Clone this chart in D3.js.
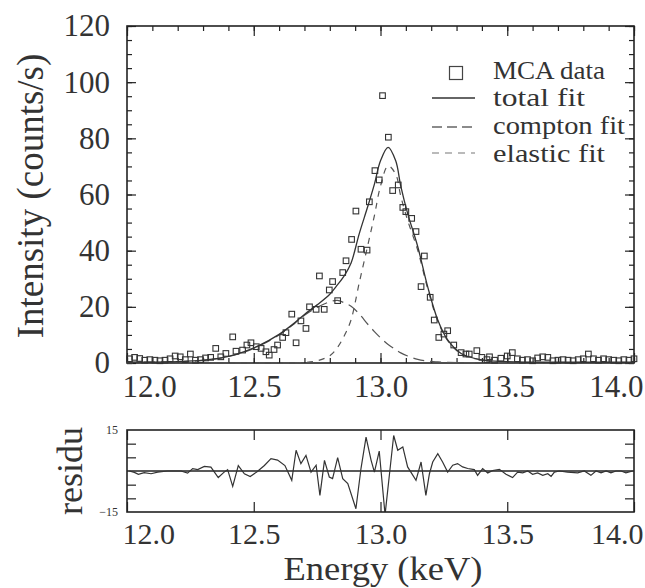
<!DOCTYPE html>
<html>
<head>
<meta charset="utf-8">
<script src="https://cdn.jsdelivr.net/npm/d3@7"></script>
<style>
  body { margin: 0; background: #fff; }
  svg { display: block; font-family: "Liberation Serif", "DejaVu Serif", serif; }
</style>
</head>
<body>
<svg id="chart" width="645" height="588"></svg>
<script>
// MCA spectrum
const energy = [12.01, 12.03, 12.05, 12.07, 12.09, 12.11, 12.13, 12.15, 12.17, 12.19,
  12.21, 12.23, 12.25, 12.27, 12.29, 12.31, 12.33, 12.35, 12.37, 12.39,
  12.417, 12.43, 12.456, 12.473, 12.489, 12.51, 12.529, 12.548, 12.561, 12.58,
  12.594, 12.614, 12.627, 12.65, 12.667, 12.686, 12.706, 12.72, 12.746, 12.759,
  12.778, 12.798, 12.811, 12.831, 12.851, 12.864, 12.886, 12.903, 12.923, 12.947,
  12.956, 12.978, 12.995, 13.008, 13.031, 13.048, 13.07, 13.088, 13.10, 13.123,
  13.14, 13.16, 13.173, 13.196, 13.212, 13.23, 13.25, 13.265, 13.289, 13.318,
  13.337, 13.35, 13.38, 13.40, 13.42, 13.43, 13.45, 13.475, 13.50, 13.52,
  13.54, 13.56, 13.58, 13.60, 13.62, 13.64, 13.66, 13.68, 13.70, 13.72,
  13.74, 13.76, 13.78, 13.80, 13.82, 13.84, 13.86, 13.88, 13.90, 13.92,
  13.94, 13.96, 13.98, 14.00];
const counts = [1.5, 2.0, 1.6, 1.0, 1.2, 1.0, 0.8, 1.0, 1.5, 2.5,
  2.2, 1.2, 3.2, 1.0, 1.2, 1.8, 2.0, 5.2, 2.2, 3.4,
  9.3, 4.2, 4.6, 6.4, 7.2, 5.8, 5.2, 4.0, 2.8, 4.8,
  6.4, 9.1, 10.8, 17.4, 7.2, 15.0, 12.3, 20.0, 19.1, 31.0,
  19.1, 26.0, 29.0, 22.2, 32.2, 36.4, 44.0, 54.1, 40.5, 40.2,
  57.4, 68.5, 65.2, 95.2, 80.4, 61.4, 63.4, 55.4, 53.9, 51.5,
  46.8, 27.2, 38.1, 23.4, 15.3, 9.1, 10.3, 11.5, 6.4, 3.7,
  3.2, 3.2, 4.4, 2.0, 1.2, 2.2, 1.0, 1.7, 2.5, 3.7,
  1.5, 1.0, 1.2, 0.8, 1.8, 2.2, 2.0, 0.8, 1.0, 1.2,
  1.0, 0.8, 1.2, 1.5, 3.2, 1.5, 1.0, 1.5, 1.2, 1.0,
  0.8, 1.2, 1.0, 1.5];

// fitted curves, read at these energies
const fitEnergy = [12.0, 12.2, 12.3, 12.4, 12.46, 12.52, 12.6, 12.66, 12.7, 12.75,
  12.8, 12.83, 12.86, 12.884, 12.916, 12.95, 12.976, 13.0, 13.03, 13.06,
  13.08, 13.107, 13.147, 13.186, 13.226, 13.265, 13.318, 13.4, 13.5, 14.0];
const totalFit = [0.3, 0.5, 1.0, 2.4, 4.0, 6.2, 10.2, 14.2, 17.3, 20.7,
  24.5, 27.8, 31.5, 35.6, 46.0, 55.8, 63.7, 72.0, 76.8, 72.0,
  63.0, 53.3, 41.4, 27.2, 15.3, 8.2, 3.4, 1.1, 0.5, 0.3];
const comptonFit = [0.2, 0.5, 0.9, 2.3, 3.8, 6.0, 10.0, 14.0, 17.0, 19.8,
  21.8, 22.3, 21.3, 20.2, 17.5, 13.8, 11.2, 9.0, 6.6, 4.8,
  3.6, 2.5, 1.3, 0.7, 0.4, 0.2, 0.1, 0, 0, 0];
const elasticFit = [0, 0, 0, 0, 0, 0, 0, 0.05, 0.2, 0.8,
  2.6, 5.5, 10.2, 15.4, 28.5, 42.0, 52.5, 63.0, 70.2, 67.2,
  59.4, 50.8, 40.1, 26.5, 14.9, 8.0, 3.3, 1.0, 0.3, 0];

// residuals
const residEnergy = [12.009, 12.029, 12.045, 12.068, 12.095, 12.121, 12.16, 12.213, 12.239, 12.259,
  12.279, 12.305, 12.331, 12.36, 12.381, 12.397, 12.417, 12.439, 12.463, 12.486,
  12.513, 12.542, 12.568, 12.594, 12.623, 12.65, 12.667, 12.686, 12.706, 12.726,
  12.746, 12.761, 12.779, 12.798, 12.811, 12.831, 12.851, 12.871, 12.903, 12.923,
  12.943, 12.963, 12.976, 12.995, 13.018, 13.052, 13.068, 13.088, 13.107, 13.14,
  13.16, 13.179, 13.193, 13.206, 13.226, 13.245, 13.265, 13.285, 13.304, 13.324,
  13.344, 13.37, 13.383, 13.403, 13.423, 13.443, 13.469, 13.495, 13.521, 13.541,
  13.561, 13.581, 13.60, 13.62, 13.64, 13.66, 13.673, 13.686, 13.705, 13.738,
  13.778, 13.804, 13.83, 13.85, 13.87, 13.89, 13.909, 13.929, 13.949, 13.968, 13.995];
const residValue = [0, -0.5, -1.2, -0.6, -1.0, -0.4, 0, 0, -0.8, 0.9,
  0.5, 1.7, 1.4, -2.4, -0.6, 0.5, -5.6, 2.0, -1.0, -2.0,
  -0.3, 2.0, 4.5, 4.0, 2.0, -3.4, 7.6, 2.7, 5.7, -0.4,
  2.1, -8.9, 3.9, -2.2, -2.8, 4.9, -2.8, -4.6, -13.8, 0.9,
  12.4, 3.9, -0.4, 7.3, -16, 13.0, 7.6, 8.8, 1.5, -3.4,
  3.3, -8.9, -1.0, 3.3, 6.3, 3.3, -0.4, 2.1, 2.7, 1.5,
  0.9, 0.5, -1.6, 0.9, -0.7, 0.2, 0.6, -1.2, -2.4, -0.4,
  -0.7, 0, -1.2, -0.7, -1.6, -1.0, -2.0, -0.4, 0, -0.4,
  -0.7, 0, -1.6, 0, -0.7, 0, -0.7, 0, 0, -0.7, 0];

const xTicks = [12.0, 12.5, 13.0, 13.5, 14.0];
const xTickLabels = ['12.0', '12.5', '13.0', '13.5', '14.0'];
const yTicks = [0, 20, 40, 60, 80, 100, 120];
const residTicks = [-10, -5, 5, 10];
const residLabels = [-15, 15];
const legendLabels = ['MCA data', 'total fit', 'compton fit', 'elastic fit'];

const ink = '#222';
const svg = d3.select('#chart');

const x = d3.scaleLinear().domain([12, 14]).range([127, 634]);
const y = d3.scaleLinear().domain([0, 120]).range([363, 26]);
const yr = d3.scaleLinear().domain([-15, 15]).range([512, 430]);

function tidy(g, size) {
  g.select('.domain').remove();
  g.attr('font-family', null).attr('font-size', size || 30);
  g.selectAll('line').attr('stroke', ink).attr('stroke-width', 1.2);
  g.selectAll('text').attr('fill', '#333');
}

function endLabels(g) {
  const t = g.selectAll('text');
  t.filter((d, i) => i === 0).attr('text-anchor', 'start').attr('dx', -5);
  t.filter((d, i, n) => i === n.length - 1).attr('text-anchor', 'end').attr('dx', 9);
}

// ---- upper panel ----
const upper = svg.append('g');

// minor ticks, all four sides
upper.append('g').attr('transform', 'translate(0,363)')
  .call(d3.axisBottom(x).tickValues(x.ticks(20)).tickSize(-5).tickFormat(''))
  .call(tidy);
upper.append('g').attr('transform', 'translate(0,26)')
  .call(d3.axisTop(x).tickValues(x.ticks(20)).tickSize(-5).tickFormat(''))
  .call(tidy);
upper.append('g').attr('transform', 'translate(127,0)')
  .call(d3.axisLeft(y).tickValues(y.ticks(24)).tickSize(-5).tickFormat(''))
  .call(tidy);
upper.append('g').attr('transform', 'translate(634,0)')
  .call(d3.axisRight(y).tickValues(y.ticks(24)).tickSize(-5).tickFormat(''))
  .call(tidy);

// major ticks with labels
upper.append('g').attr('transform', 'translate(0,363)')
  .call(d3.axisBottom(x).tickValues(xTicks).tickSize(-10).tickPadding(12)
    .tickFormat((d, i) => xTickLabels[i]))
  .call(g => tidy(g, 31)).call(endLabels);
upper.append('g').attr('transform', 'translate(0,26)')
  .call(d3.axisTop(x).tickValues(xTicks).tickSize(-10).tickFormat(''))
  .call(tidy);
upper.append('g').attr('transform', 'translate(127,0)')
  .call(d3.axisLeft(y).tickValues(yTicks).tickSize(-9).tickPadding(17))
  .call(g => tidy(g, 31));
upper.append('g').attr('transform', 'translate(634,0)')
  .call(d3.axisRight(y).tickValues(yTicks).tickSize(-9).tickFormat(''))
  .call(tidy);

upper.append('rect')
  .attr('x', x(12)).attr('y', y(120))
  .attr('width', x(14) - x(12)).attr('height', y(0) - y(120))
  .attr('fill', 'none').attr('stroke', ink).attr('stroke-width', 1.6);

const fitLine = vals => d3.line()
  .x((d, i) => x(fitEnergy[i]))
  .y(d => y(d))
  .curve(d3.curveCatmullRom)(vals);

upper.append('path').attr('d', fitLine(comptonFit))
  .attr('fill', 'none').attr('stroke', '#555').attr('stroke-width', 1.2)
  .attr('stroke-dasharray', '11,6');
upper.append('path').attr('d', fitLine(elasticFit))
  .attr('fill', 'none').attr('stroke', '#555').attr('stroke-width', 1.2)
  .attr('stroke-dasharray', '6,6');
upper.append('path').attr('d', fitLine(totalFit))
  .attr('fill', 'none').attr('stroke', '#333').attr('stroke-width', 1.3);

upper.selectAll('.dot')
  .data(counts)
  .enter()
  .append('rect')
  .attr('class', 'dot')
  .attr('x', (d, i) => x(energy[i]) - 2.8)
  .attr('y', d => y(d) - 2.8)
  .attr('width', 5.6)
  .attr('height', 5.6)
  .attr('fill', 'none')
  .attr('stroke', '#333')
  .attr('stroke-width', 1.1);

// legend
const lg = upper.append('g').attr('font-size', 25).attr('fill', '#333');
lg.append('rect').attr('x', 449.5).attr('y', 66.5).attr('width', 13).attr('height', 13)
  .attr('fill', 'none').attr('stroke', '#444').attr('stroke-width', 1.2);
lg.append('line').attr('x1', 432).attr('x2', 475).attr('y1', 98).attr('y2', 98)
  .attr('stroke', '#333').attr('stroke-width', 1.4);
lg.append('line').attr('x1', 432).attr('x2', 475).attr('y1', 127).attr('y2', 127)
  .attr('stroke', '#666').attr('stroke-width', 1.3).attr('stroke-dasharray', '10,5');
lg.append('line').attr('x1', 432).attr('x2', 475).attr('y1', 153).attr('y2', 153)
  .attr('stroke', '#777').attr('stroke-width', 1.2).attr('stroke-dasharray', '7,6');
lg.selectAll('text')
  .data(legendLabels)
  .enter()
  .append('text')
  .attr('x', 493)
  .attr('y', (d, i) => [78.5, 106.2, 133.9, 161.6][i])
  .attr('textLength', (d, i) => [112, 92, 132, 112][i])
  .attr('lengthAdjust', 'spacingAndGlyphs')
  .text(d => d);

upper.append('text')
  .attr('transform', 'translate(43,196) rotate(-90)')
  .attr('text-anchor', 'middle')
  .attr('font-size', 37)
  .attr('fill', '#333')
  .text('Intensity (counts/s)');

// ---- residual panel ----
const lower = svg.append('g');

lower.append('clipPath').attr('id', 'rclip')
  .append('rect')
  .attr('x', x(12)).attr('y', yr(15))
  .attr('width', x(14) - x(12)).attr('height', yr(-15) - yr(15));

lower.append('g').attr('transform', 'translate(0,512)')
  .call(d3.axisBottom(x).tickValues(xTicks).tickSize(-10).tickPadding(11)
    .tickFormat((d, i) => xTickLabels[i]))
  .call(tidy).call(endLabels);
lower.append('g').attr('transform', 'translate(0,430)')
  .call(d3.axisTop(x).tickValues(xTicks).tickSize(-10).tickFormat(''))
  .call(tidy);
lower.append('g').attr('transform', 'translate(127,0)')
  .call(d3.axisLeft(yr).tickValues(residTicks).tickSize(-9).tickFormat(''))
  .call(tidy);
lower.append('g').attr('transform', 'translate(634,0)')
  .call(d3.axisRight(yr).tickValues(residTicks).tickSize(-9).tickFormat(''))
  .call(tidy);
lower.append('g').attr('transform', 'translate(127,0)')
  .call(d3.axisLeft(yr).tickValues(residLabels).tickSize(0).tickPadding(9))
  .call(g => tidy(g, 12));

lower.append('line')
  .attr('x1', x(12)).attr('x2', x(14)).attr('y1', yr(0)).attr('y2', yr(0))
  .attr('stroke', ink).attr('stroke-width', 1.3);

lower.append('path')
  .attr('clip-path', 'url(#rclip)')
  .attr('d', d3.line()
    .x((d, i) => x(residEnergy[i]))
    .y(d => yr(d))(residValue))
  .attr('fill', 'none').attr('stroke', '#333').attr('stroke-width', 1.2);

lower.append('rect')
  .attr('x', x(12)).attr('y', yr(15))
  .attr('width', x(14) - x(12)).attr('height', yr(-15) - yr(15))
  .attr('fill', 'none').attr('stroke', ink).attr('stroke-width', 1.6);

lower.append('text')
  .attr('transform', 'translate(82,471) rotate(-90)')
  .attr('text-anchor', 'middle')
  .attr('font-size', 36)
  .attr('fill', '#333')
  .text('residu');

svg.append('text')
  .attr('x', 383).attr('y', 580)
  .attr('text-anchor', 'middle')
  .attr('font-size', 33)
  .attr('textLength', 199)
  .attr('lengthAdjust', 'spacingAndGlyphs')
  .attr('fill', '#333')
  .text('Energy (keV)');
</script>
</body>
</html>
